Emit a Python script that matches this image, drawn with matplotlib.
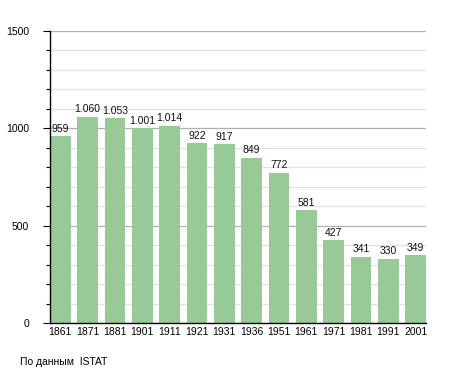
import numpy as np
import matplotlib.pyplot as plt
from matplotlib.ticker import MultipleLocator

plt.rcParams['font.family'] = ['Liberation Sans', 'DejaVu Sans']

years = ['1861', '1871', '1881', '1901', '1911', '1921', '1931',
         '1936', '1951', '1961', '1971', '1981', '1991', '2001']
population = [959, 1060, 1053, 1001, 1014, 922, 917, 849, 772, 581, 427, 341, 330, 349]

bar_color = '#97ca97'

fig = plt.figure(figsize=(4.55, 3.73), dpi=100)
ax = fig.add_axes([0.110, 0.134, 0.826, 0.783])

x = np.arange(len(years))
ax.bar(x, population, width=0.75, color=bar_color, zorder=2)

# value labels, with dot as thousands separator
for xi, v in zip(x, population):
    label = f'{v:,}'.replace(',', '.')
    ax.text(xi, v + 12, label, ha='center', va='bottom', fontsize=7.5, color='#111111', zorder=3)

ax.set_xlim(-0.375, len(years) - 0.625)
ax.set_ylim(0, 1500)
ax.set_xticks(x)
ax.set_xticklabels(years, fontsize=7.5)
ax.tick_params(axis='x', length=0, pad=3)

ax.yaxis.set_major_locator(MultipleLocator(500))
ax.yaxis.set_minor_locator(MultipleLocator(100))
ax.tick_params(axis='y', which='major', length=5, width=0.8, labelsize=7.5, pad=10)
ax.tick_params(axis='y', which='minor', length=3, width=0.8)

ax.grid(axis='y', which='major', color='#b0b0b0', linewidth=0.9, zorder=0)
ax.grid(axis='y', which='minor', color='#e2e2e2', linewidth=0.9, zorder=0)
ax.set_axisbelow(True)

for s in ['top', 'right']:
    ax.spines[s].set_visible(False)
ax.spines['left'].set_linewidth(1.0)
ax.spines['bottom'].set_linewidth(1.0)

fig.text(20 / 455, 1 - 362 / 373, 'По данным  ISTAT', fontsize=7.5, va='center', ha='left')

fig.savefig('out.png', dpi=100)
